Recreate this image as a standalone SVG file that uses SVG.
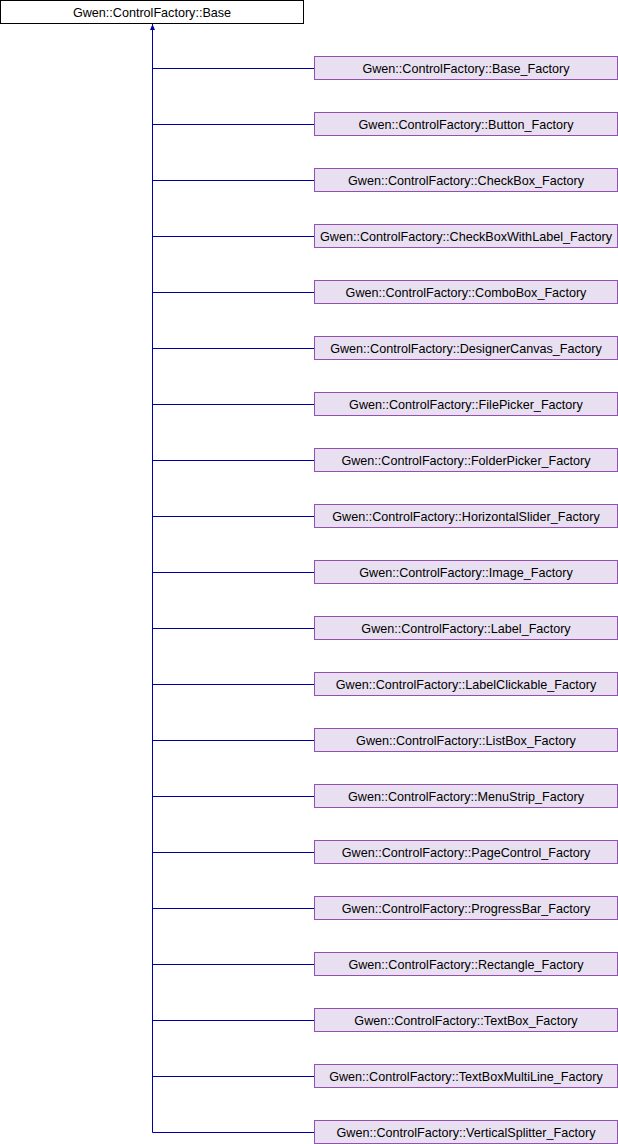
<svg xmlns="http://www.w3.org/2000/svg" width="618" height="1144" viewBox="0 0 618 1144">
<style>
.base rect{fill:#ffffff;stroke:#000000;stroke-width:1}
.node rect{fill:#e8dff0;stroke:#9350b0;stroke-width:1}
text{font-family:"Liberation Sans",Arial,sans-serif;font-size:12.6px;fill:#000000;text-anchor:middle}
.edges path{fill:none;stroke:#0000a0;stroke-width:1}
</style>
<defs>
<marker id="arr" markerWidth="8" markerHeight="10" refX="0" refY="0" orient="0" markerUnits="userSpaceOnUse" viewBox="-4 0 8 10">
<path d="M0,0 L-2.5,6 L2.5,6 Z" fill="#0000a0"/>
</marker>
</defs>
<rect width="618" height="1144" fill="#ffffff"/>
<g id="edges" class="edges">
<path d="M152.5,1132.5 L152.5,24" marker-end="url(#arr)"/>
<path d="M152.5,68.5 H314"/>
<path d="M152.5,124.5 H314"/>
<path d="M152.5,180.5 H314"/>
<path d="M152.5,236.5 H314"/>
<path d="M152.5,292.5 H314"/>
<path d="M152.5,348.5 H314"/>
<path d="M152.5,404.5 H314"/>
<path d="M152.5,460.5 H314"/>
<path d="M152.5,516.5 H314"/>
<path d="M152.5,572.5 H314"/>
<path d="M152.5,628.5 H314"/>
<path d="M152.5,684.5 H314"/>
<path d="M152.5,740.5 H314"/>
<path d="M152.5,796.5 H314"/>
<path d="M152.5,852.5 H314"/>
<path d="M152.5,908.5 H314"/>
<path d="M152.5,964.5 H314"/>
<path d="M152.5,1020.5 H314"/>
<path d="M152.5,1076.5 H314"/>
<path d="M152.5,1132.5 H314"/>
</g>
<g id="base" class="base"><rect x="0.5" y="0.5" width="303" height="23"/><text x="152" y="16.5">Gwen::ControlFactory::Base</text></g>
<g id="n1" class="node"><rect x="314.5" y="56.5" width="303" height="23"/><text x="466" y="72.5">Gwen::ControlFactory::Base_Factory</text></g>
<g id="n2" class="node"><rect x="314.5" y="112.5" width="303" height="23"/><text x="466" y="128.5">Gwen::ControlFactory::Button_Factory</text></g>
<g id="n3" class="node"><rect x="314.5" y="168.5" width="303" height="23"/><text x="466" y="184.5">Gwen::ControlFactory::CheckBox_Factory</text></g>
<g id="n4" class="node"><rect x="314.5" y="224.5" width="303" height="23"/><text x="466" y="240.5">Gwen::ControlFactory::CheckBoxWithLabel_Factory</text></g>
<g id="n5" class="node"><rect x="314.5" y="280.5" width="303" height="23"/><text x="466" y="296.5">Gwen::ControlFactory::ComboBox_Factory</text></g>
<g id="n6" class="node"><rect x="314.5" y="336.5" width="303" height="23"/><text x="466" y="352.5">Gwen::ControlFactory::DesignerCanvas_Factory</text></g>
<g id="n7" class="node"><rect x="314.5" y="392.5" width="303" height="23"/><text x="466" y="408.5">Gwen::ControlFactory::FilePicker_Factory</text></g>
<g id="n8" class="node"><rect x="314.5" y="448.5" width="303" height="23"/><text x="466" y="464.5">Gwen::ControlFactory::FolderPicker_Factory</text></g>
<g id="n9" class="node"><rect x="314.5" y="504.5" width="303" height="23"/><text x="466" y="520.5">Gwen::ControlFactory::HorizontalSlider_Factory</text></g>
<g id="n10" class="node"><rect x="314.5" y="560.5" width="303" height="23"/><text x="466" y="576.5">Gwen::ControlFactory::Image_Factory</text></g>
<g id="n11" class="node"><rect x="314.5" y="616.5" width="303" height="23"/><text x="466" y="632.5">Gwen::ControlFactory::Label_Factory</text></g>
<g id="n12" class="node"><rect x="314.5" y="672.5" width="303" height="23"/><text x="466" y="688.5">Gwen::ControlFactory::LabelClickable_Factory</text></g>
<g id="n13" class="node"><rect x="314.5" y="728.5" width="303" height="23"/><text x="466" y="744.5">Gwen::ControlFactory::ListBox_Factory</text></g>
<g id="n14" class="node"><rect x="314.5" y="784.5" width="303" height="23"/><text x="466" y="800.5">Gwen::ControlFactory::MenuStrip_Factory</text></g>
<g id="n15" class="node"><rect x="314.5" y="840.5" width="303" height="23"/><text x="466" y="856.5">Gwen::ControlFactory::PageControl_Factory</text></g>
<g id="n16" class="node"><rect x="314.5" y="896.5" width="303" height="23"/><text x="466" y="912.5">Gwen::ControlFactory::ProgressBar_Factory</text></g>
<g id="n17" class="node"><rect x="314.5" y="952.5" width="303" height="23"/><text x="466" y="968.5">Gwen::ControlFactory::Rectangle_Factory</text></g>
<g id="n18" class="node"><rect x="314.5" y="1008.5" width="303" height="23"/><text x="466" y="1024.5">Gwen::ControlFactory::TextBox_Factory</text></g>
<g id="n19" class="node"><rect x="314.5" y="1064.5" width="303" height="23"/><text x="466" y="1080.5">Gwen::ControlFactory::TextBoxMultiLine_Factory</text></g>
<g id="n20" class="node"><rect x="314.5" y="1120.5" width="303" height="23"/><text x="466" y="1136.5">Gwen::ControlFactory::VerticalSplitter_Factory</text></g>
</svg>
